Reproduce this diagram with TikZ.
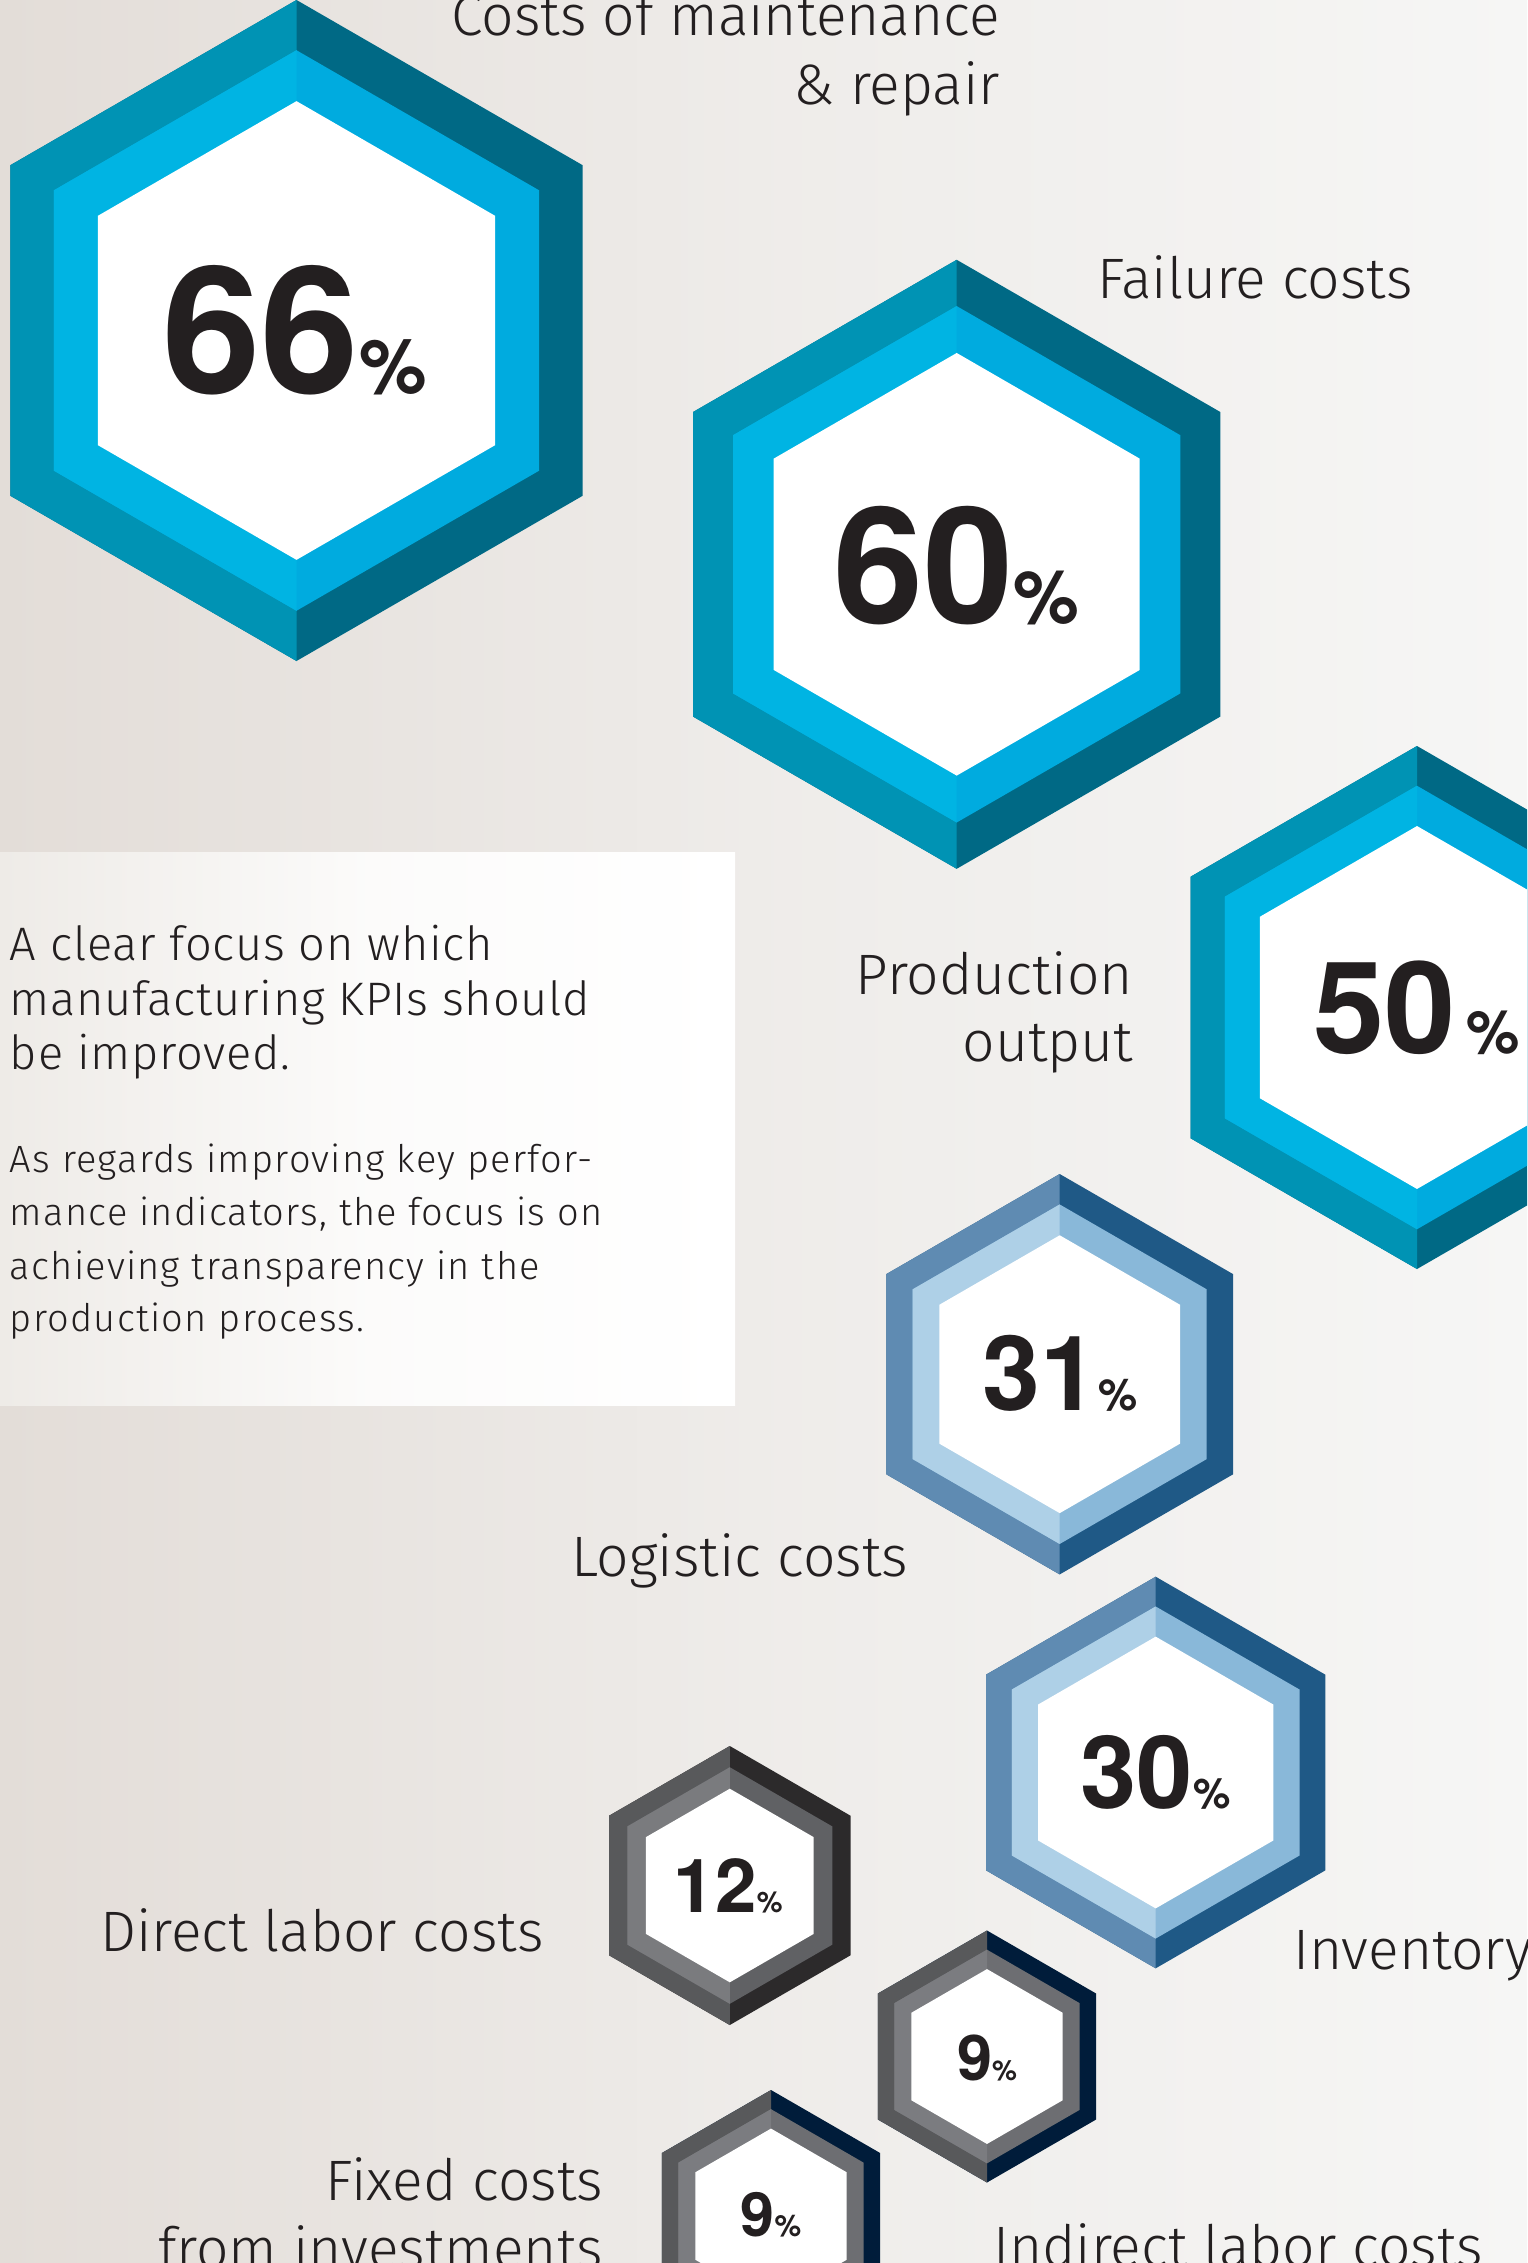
\documentclass[tikz,border=0pt]{standalone}
\usepackage{fontspec}
\setmainfont{Fira Sans}[UprightFont={* Light}]
\newfontfamily\boxbigfont{Fira Sans}[UprightFont={* Light},LetterSpace=1.6]
\newfontfamily\boxsmallfont{Fira Sans}[UprightFont={* Light},LetterSpace=3.2]
\newfontfamily\numfont{TeX Gyre Heros}
\definecolor{cyOL}{HTML}{0093B4}\definecolor{cyOR}{HTML}{006985}
\definecolor{cyML}{HTML}{00B4E3}\definecolor{cyMR}{HTML}{00ABDF}
\definecolor{blOL}{HTML}{5F8BB2}\definecolor{blOR}{HTML}{1F5986}
\definecolor{blML}{HTML}{AED0E7}\definecolor{blMR}{HTML}{89B8D9}
\definecolor{gaOL}{HTML}{58595B}\definecolor{gaOR}{HTML}{2C2A2B}
\definecolor{gaML}{HTML}{7A7B7E}\definecolor{gaMR}{HTML}{606164}
\definecolor{gbOL}{HTML}{58595B}\definecolor{gbOR}{HTML}{001C3A}
\definecolor{gbML}{HTML}{7B7C80}\definecolor{gbMR}{HTML}{6D6E72}
\definecolor{ink}{HTML}{231F20}
\definecolor{bgL}{HTML}{E3DDD8}\definecolor{bgR}{HTML}{F6F6F5}
\definecolor{boxL}{HTML}{EEEBE7}
\newcommand\hexring[7]{%
\begin{scope}[shift={(#1,#2)},scale=#3]
\fill[#5] (0,-1)--(0.866,-0.5)--(0.866,0.5)--(0,1)--(-0.866,0.5)--(-0.866,-0.5)--cycle;
\fill[#4] (0,-1)--(-0.866,-0.5)--(-0.866,0.5)--(0,1)--cycle;
\fill[#7] (0,-0.848)--(0.7344,-0.424)--(0.7344,0.424)--(0,0.848)--(-0.7344,0.424)--(-0.7344,-0.424)--cycle;
\fill[#6] (0,-0.848)--(-0.7344,-0.424)--(-0.7344,0.424)--(0,0.848)--cycle;
\fill[white] (0,-0.694)--(0.601,-0.347)--(0.601,0.347)--(0,0.694)--(-0.601,0.347)--(-0.601,-0.347)--cycle;
\end{scope}}
\newcommand\pctnum[7]{\node[numtxt] (#1) at (#2,#3) {\fontsize{#4}{#4}\selectfont #6\hspace{#7}\fontsize{#5}{#5}\selectfont\%};}
\begin{document}
\begin{tikzpicture}[x=0.5pt,y=-0.5pt,
  numtxt/.style={inner sep=0pt,outer sep=0pt,anchor=base,text=ink,font=\numfont\bfseries},
  lbl/.style={inner sep=0pt,outer sep=0pt,text=ink,font=\fontsize{28.5}{30}\selectfont},
  boxbig/.style={inner sep=0pt,outer sep=0pt,anchor=base west,text=ink,font=\boxbigfont\fontsize{23.5}{25}\selectfont},
  boxsmall/.style={inner sep=0pt,outer sep=0pt,anchor=base west,text=ink,font=\boxsmallfont\fontsize{19}{21}\selectfont}]
\useasboundingbox (0,0) rectangle (1527,2263);
\clip (0,0) rectangle (1527,2263);
\shade[left color=bgL,right color=bgR,middle color=bgR!60!bgL] (0,0) rectangle (1527,2263);
% text box
\shade[left color=boxL,right color=white,middle color=white!80!boxL] (0,852) rectangle (735,1405);
% hexagons
\hexring{296.5}{330.5}{330.5}{cyOL}{cyOR}{cyML}{cyMR}
\hexring{956.7}{564.3}{304.5}{cyOL}{cyOR}{cyML}{cyMR}
\hexring{1417}{1007.5}{261.5}{cyOL}{cyOR}{cyML}{cyMR}
\hexring{1059.7}{1374.2}{200.2}{blOL}{blOR}{blML}{blMR}
\hexring{1155.7}{1772.5}{195.8}{blOL}{blOR}{blML}{blMR}
\hexring{729.8}{1885.5}{139.5}{gaOL}{gaOR}{gaML}{gaMR}
\hexring{987}{2056.5}{126}{gbOL}{gbOR}{gbML}{gbMR}
\hexring{771}{2216}{126}{gbOL}{gbOR}{gbML}{gbMR}
% numbers
\pctnum{n66}{294.5}{393.5}{88.5}{38}{66}{0pt}
\pctnum{n60}{956.5}{623}{81}{37}{60}{0pt}
\pctnum{n50}{1416.6}{1053.6}{64}{30}{50}{5pt}
\pctnum{n31}{1060}{1410.7}{52}{22}{31}{0pt}
\pctnum{n30}{1155.5}{1808.3}{50.5}{21}{30}{0pt}
\pctnum{n12}{728.3}{1912.7}{37.25}{14.5}{12}{0pt}
\pctnum{n9a}{987}{2080}{31.5}{14}{9}{0pt}
\pctnum{n9b}{771}{2236.7}{30.5}{15}{9}{0pt}
% labels
\node[lbl,anchor=base east] (l1a) at (1000,36) {Costs of maintenance};
\node[lbl,anchor=base east] (l1b) at (1000,105) {\& repair};
\node[lbl,anchor=base west] (l2) at (1097,299) {Failure costs};
\node[lbl,anchor=base east] (l3a) at (1133,994) {Production};
\node[lbl,anchor=base east] (l3b) at (1133,1061) {output};
\node[lbl,anchor=base west] (l4) at (571,1576) {Logistic costs};
\node[lbl,anchor=base west] (l5) at (100,1951) {Direct labor costs};
\node[lbl,anchor=base west] (l6) at (1293,1969) {Inventory};
\node[lbl,anchor=base east] (l7a) at (603,2200) {Fixed costs};
\node[lbl,anchor=base east] (l7b) at (603,2268) {from investments};
\node[lbl,anchor=base west] (l8) at (993,2266) {Indirect labor costs};
% box text
\node[boxbig] (b1) at (10,960) {A clear focus on which};
\node[boxbig] (b2) at (10,1015) {manufacturing KPIs should};
\node[boxbig] (b3) at (10,1069) {be improved.};
\node[boxsmall] (s1) at (10,1172) {As regards improving key perfor-};
\node[boxsmall] (s2) at (10,1225) {mance indicators, the focus is on};
\node[boxsmall] (s3) at (10,1279) {achieving transparency in the};
\node[boxsmall] (s4) at (10,1331) {production process.};
\end{tikzpicture}
\end{document}
